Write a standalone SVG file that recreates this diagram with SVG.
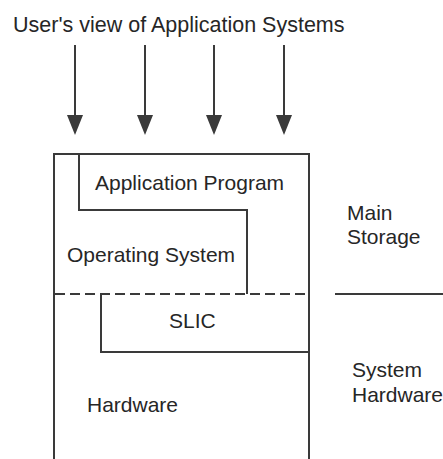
<svg xmlns="http://www.w3.org/2000/svg" width="443" height="459" viewBox="0 0 443 459">
  <style>
    text { font-family: "Liberation Sans", Arial, sans-serif; font-size: 21px; fill: #262626; }
    .title { font-size: 21.5px; }
    .ln { fill: none; stroke: #3a3a3a; stroke-width: 2; }
    .dash { fill: none; stroke: #3a3a3a; stroke-width: 2; stroke-dasharray: 10 5; }
    .head { fill: #3a3a3a; }
  </style>

  <text id="title" class="title" x="13" y="32">User's view of Application Systems</text>

  <!-- four downward arrows into the system box -->
  <g id="connectors">
    <line class="ln" x1="75" y1="45" x2="75" y2="116"/>
    <path class="head" d="M67,115 L83,115 L75,135 Z"/>
    <line class="ln" x1="145" y1="45" x2="145" y2="116"/>
    <path class="head" d="M137,115 L153,115 L145,135 Z"/>
    <line class="ln" x1="214" y1="45" x2="214" y2="116"/>
    <path class="head" d="M206,115 L222,115 L214,135 Z"/>
    <line class="ln" x1="284" y1="45" x2="284" y2="116"/>
    <path class="head" d="M276,115 L292,115 L284,135 Z"/>
  </g>

  <!-- outer box, open at the bottom -->
  <g id="system">
    <path class="ln" d="M54,460 L54,154 L309,154 L309,460"/>
  </g>

  <g id="application-program">
    <path class="ln" d="M79,154 L79,210 L247,210 L247,294"/>
    <text x="95" y="190">Application Program</text>
  </g>

  <g id="operating-system">
    <text x="67" y="262">Operating System</text>
  </g>

  <!-- boundary between main storage and system hardware -->
  <g id="storage-boundary">
    <line class="dash" x1="55" y1="294" x2="309" y2="294"/>
    <line class="ln" x1="335" y1="294" x2="443" y2="294"/>
  </g>

  <g id="slic">
    <path class="ln" d="M101,294 L101,352 L309,352"/>
    <text x="169" y="328">SLIC</text>
  </g>

  <g id="hardware">
    <text x="87" y="412">Hardware</text>
  </g>

  <g id="main-storage">
    <text x="347" y="220">Main</text>
    <text x="347" y="244">Storage</text>
  </g>

  <g id="system-hardware">
    <text x="352" y="377">System</text>
    <text x="352" y="402">Hardware</text>
  </g>
</svg>
